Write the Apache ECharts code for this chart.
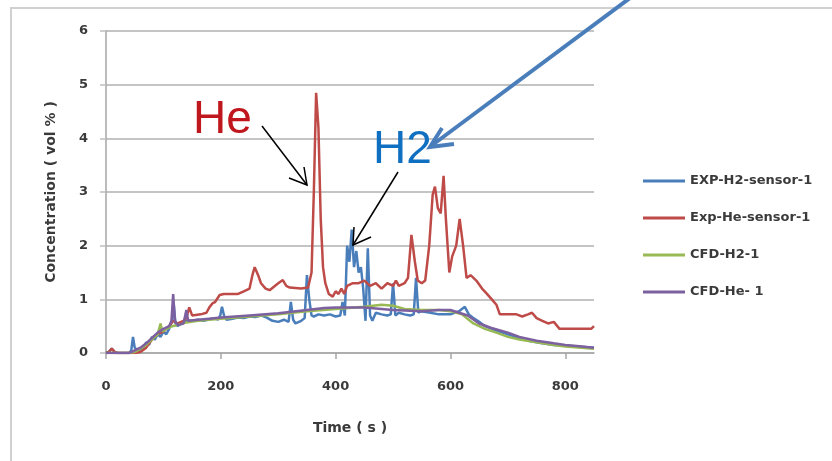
<!DOCTYPE html>
<html>
<head>
<meta charset="utf-8">
<script src="https://cdn.jsdelivr.net/npm/echarts@6/dist/echarts.min.js"></script>
<style>
html,body{margin:0;padding:0;background:#fff;}
#chart{width:832px;height:461px;}
</style>
</head>
<body>
<div id="chart"></div>
<script>
const seriesNames = ['EXP-H2-sensor-1', 'Exp-He-sensor-1', 'CFD-H2-1', 'CFD-He- 1'];
const xTickLabels = [0, 200, 400, 600, 800];
const yTickLabels = [0, 1, 2, 3, 4, 5, 6];

const expH2Time = [0,5,10,15,20,40,44,47,50,55,60,65,70,75,80,85,90,95,100,105,110,115,118,121,125,130,140,150,160,170,180,190,195,199,202,206,210,220,230,240,250,260,270,280,290,300,310,318,322,326,330,340,346,350,354,358,362,370,380,390,400,408,412,416,420,424,428,432,436,440,444,448,452,456,460,464,470,480,490,496,500,504,510,520,530,536,540,544,548,560,580,600,615,625,632,640,650,660,680,700,720,740,760,780,800,820,850];
const expH2Vals = [0,0.02,0.08,0.02,0,0,0.05,0.3,0.1,0.05,0.05,0.1,0.2,0.15,0.3,0.25,0.35,0.3,0.4,0.35,0.45,0.6,0.9,0.55,0.5,0.55,0.6,0.6,0.62,0.6,0.63,0.65,0.62,0.7,0.86,0.68,0.62,0.64,0.66,0.65,0.68,0.67,0.7,0.66,0.6,0.58,0.62,0.58,0.95,0.62,0.55,0.6,0.65,1.45,1.0,0.7,0.68,0.72,0.7,0.72,0.68,0.7,0.95,0.7,2.0,1.7,2.3,1.6,1.9,1.5,1.6,1.2,0.6,1.95,0.7,0.6,0.75,0.72,0.7,0.72,1.3,0.7,0.75,0.72,0.7,0.72,1.4,0.75,0.78,0.76,0.72,0.72,0.78,0.86,0.72,0.65,0.58,0.5,0.42,0.35,0.28,0.22,0.18,0.15,0.14,0.12,0.1];

const expHeTime = [0,5,10,15,20,50,60,70,80,90,100,110,117,125,135,140,145,150,165,175,180,186,190,198,205,230,240,250,255,259,265,270,278,285,300,308,314,320,340,352,358,362,366,370,374,378,382,388,395,400,405,410,415,420,430,440,450,455,460,470,480,490,500,505,510,520,526,532,538,543,550,556,563,569,573,578,583,588,592,598,603,610,616,622,628,635,645,655,662,672,680,686,700,715,725,735,742,750,760,770,780,790,800,830,845,850];
const expHeVals = [0,0.02,0.08,0.02,0,0,0.02,0.1,0.25,0.35,0.4,0.5,0.6,0.55,0.6,0.65,0.85,0.7,0.72,0.75,0.85,0.93,0.95,1.08,1.1,1.1,1.15,1.2,1.45,1.6,1.45,1.3,1.2,1.17,1.3,1.36,1.25,1.22,1.2,1.22,1.5,3.0,4.85,4.2,2.5,1.6,1.3,1.1,1.05,1.15,1.1,1.2,1.1,1.25,1.3,1.3,1.35,1.3,1.25,1.3,1.2,1.3,1.25,1.35,1.25,1.3,1.4,2.2,1.7,1.35,1.3,1.35,2.0,2.95,3.1,2.7,2.6,3.3,2.5,1.5,1.8,2.0,2.5,2.0,1.4,1.45,1.35,1.2,1.12,1.0,0.9,0.72,0.72,0.72,0.68,0.72,0.75,0.65,0.6,0.55,0.58,0.45,0.45,0.45,0.45,0.5];

const cfdH2Time = [0,40,50,60,70,80,90,95,98,105,115,125,140,160,180,200,250,300,350,400,450,480,500,520,550,580,600,620,640,660,680,700,720,750,780,800,850];
const cfdH2Vals = [0,0,0.02,0.08,0.15,0.25,0.35,0.55,0.4,0.45,0.5,0.52,0.57,0.6,0.62,0.64,0.68,0.72,0.78,0.82,0.86,0.9,0.88,0.82,0.8,0.8,0.78,0.72,0.55,0.45,0.38,0.3,0.25,0.2,0.15,0.12,0.08];

const cfdHeTime = [0,40,45,50,60,70,80,90,100,110,114,117,120,125,135,140,143,160,180,200,250,300,350,380,400,450,500,550,580,600,615,630,650,670,700,720,750,780,800,820,850];
const cfdHeVals = [0,0,0.02,0.05,0.1,0.18,0.28,0.38,0.45,0.5,0.6,1.1,0.6,0.52,0.55,0.8,0.6,0.62,0.64,0.66,0.7,0.74,0.8,0.84,0.85,0.85,0.8,0.78,0.8,0.8,0.75,0.7,0.55,0.47,0.38,0.3,0.23,0.18,0.15,0.13,0.1];

const colors = ['#4A7EBB', '#BE4B48', '#98B954', '#7D60A0'];

function zip(t, v) { return t.map((x, i) => [x, v[i]]); }
const allData = [zip(expH2Time, expH2Vals), zip(expHeTime, expHeVals), zip(cfdH2Time, cfdH2Vals), zip(cfdHeTime, cfdHeVals)];

const chart = echarts.init(document.getElementById('chart'), null, {renderer: 'canvas'});
const labelFont = {fontFamily: 'DejaVu Sans', fontWeight: 'bold', fontSize: 13, color: '#3a3a3a'};

chart.setOption({
  animation: false,
  backgroundColor: '#ffffff',
  color: colors,
  grid: {left: 106, right: 238, top: 31, bottom: 108},
  legend: {
    orient: 'vertical', left: 638, top: 168,
    icon: 'rect',
    itemWidth: 42, itemHeight: 3, itemGap: 21,
    data: seriesNames,
    textStyle: {fontFamily: 'DejaVu Sans', fontWeight: 'bold', fontSize: 13, color: '#3a3a3a', lineHeight: 16}
  },
  xAxis: {
    type: 'value', min: 0, max: 850, interval: 200,
    name: 'Time ( s )', nameLocation: 'middle', nameGap: 68,
    nameTextStyle: {fontFamily: 'DejaVu Sans', fontWeight: 'bold', fontSize: 14, color: '#3a3a3a'},
    axisLine: {show: true, lineStyle: {color: '#a6a6a6', width: 1.5}},
    axisTick: {show: true, length: 6, customValues: xTickLabels, lineStyle: {color: '#a6a6a6', width: 1.5}},
    axisLabel: Object.assign({margin: 27, customValues: xTickLabels}, labelFont),
    splitLine: {show: false}
  },
  yAxis: {
    type: 'value', min: 0, max: 6, interval: 1,
    name: 'Concentration ( vol % )', nameLocation: 'middle', nameGap: 48,
    nameTextStyle: {fontFamily: 'DejaVu Sans', fontWeight: 'bold', fontSize: 14, color: '#3a3a3a'},
    axisLine: {show: true, lineStyle: {color: '#a6a6a6', width: 1.5}},
    axisTick: {show: true, length: 6, lineStyle: {color: '#bfbfbf', width: 1.5}},
    axisLabel: Object.assign({margin: 18, customValues: yTickLabels}, labelFont),
    splitLine: {show: true, lineStyle: {color: '#c4c4c4', width: 2}}
  },
  series: seriesNames.map((n, i) => ({
    name: n, type: 'line', data: allData[i],
    showSymbol: false, symbol: 'none',
    lineStyle: {width: 2.5, color: colors[i]},
    itemStyle: {color: colors[i]},
    z: 2 + i
  })),
  graphic: [
    {type: 'polyline', shape: {points: [[11, 461], [11, 8], [832, 8]]}, style: {stroke: '#d0d0d0', lineWidth: 2, fill: null}, z: 100},
    {type: 'text', x: 193, y: 120, style: {text: 'He', fontFamily: 'Liberation Sans', fontSize: 46, fill: '#C0161D', verticalAlign: 'middle', align: 'left'}, z: 100},
    {type: 'text', x: 373, y: 150, style: {text: 'H2', fontFamily: 'Liberation Sans', fontSize: 46, fill: '#0F6FC0', verticalAlign: 'middle', align: 'left'}, z: 100},
    {type: 'line', shape: {x1: 262, y1: 126, x2: 307, y2: 185}, style: {stroke: '#000', lineWidth: 1.5}, z: 100},
    {type: 'polyline', shape: {points: [[289, 178], [307, 185], [304, 167]]}, style: {stroke: '#000', lineWidth: 1.5, fill: null}, z: 100},
    {type: 'line', shape: {x1: 398, y1: 172, x2: 353, y2: 245}, style: {stroke: '#000', lineWidth: 1.5}, z: 100},
    {type: 'polyline', shape: {points: [[371, 237], [353, 245], [354, 227]]}, style: {stroke: '#000', lineWidth: 1.5, fill: null}, z: 100},
    {type: 'line', shape: {x1: 630, y1: -2, x2: 431, y2: 146}, style: {stroke: '#4A7EBB', lineWidth: 4}, z: 100},
    {type: 'polyline', shape: {points: [[454, 144], [430, 147], [442, 128]]}, style: {stroke: '#4A7EBB', lineWidth: 4, fill: null, lineJoin: 'miter'}, z: 100}
  ]
});
</script>
</body>
</html>
